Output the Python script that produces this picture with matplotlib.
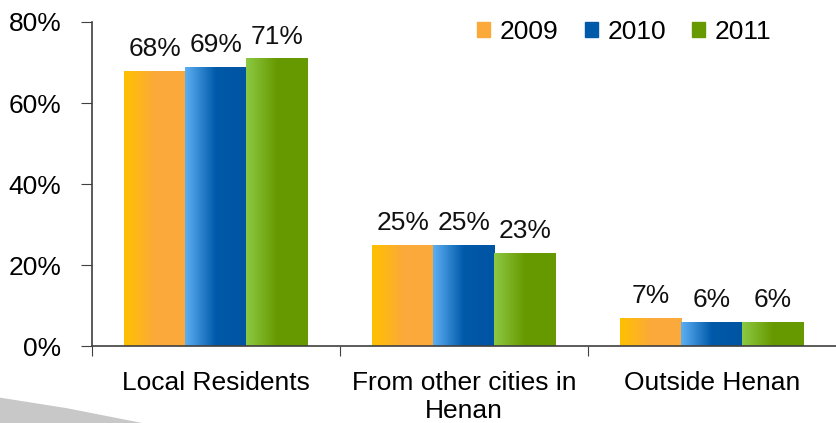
import numpy as np
import matplotlib
matplotlib.use("Agg")
import matplotlib.pyplot as plt
from matplotlib.colors import LinearSegmentedColormap
from matplotlib.patches import Polygon

plt.rcParams['font.family'] = ['Liberation Sans', 'DejaVu Sans']

# data
categories = ['Local Residents', 'From other cities in\nHenan', 'Outside Henan']
years = ['2009', '2010', '2011']
v2009 = [68, 25, 7]
v2010 = [69, 25, 6]
v2011 = [71, 23, 6]
series = [v2009, v2010, v2011]

# gradient colours per year (left -> right)
grads = [
    ['#FFC000', '#FBAA3A', '#FBA93C'],
    ['#5CAEF2', '#0059A9', '#0055A3'],
    ['#8DC843', '#679A00', '#669900'],
]
cmaps = [LinearSegmentedColormap.from_list('g%d' % i, g) for i, g in enumerate(grads)]

fs = 19

fig = plt.figure(figsize=(8.36, 4.23), dpi=100)
ax = fig.add_axes([0.110, 0.182, 0.890, 0.766])

width = 0.246
x = np.arange(len(categories))
grad = np.linspace(0, 1, 64).reshape(1, -1)

handles = []
for i, vals in enumerate(series):
    pos = x + (i - 1) * width
    bars = ax.bar(pos, vals, width, color='none', edgecolor='none', label=years[i])
    for b, v in zip(bars, vals):
        x0 = b.get_x()
        im = ax.imshow(grad, cmap=cmaps[i], aspect='auto',
                       extent=[x0, x0 + width, 0, v], zorder=2)
        im.set_clip_path(b)
        ax.annotate('%d%%' % v, (x0 + width / 2, v), xytext=(0, 7),
                    textcoords='offset points', ha='center', va='bottom',
                    fontsize=fs, color='#111111')
    h = plt.Rectangle((0, 0), 1, 1, color=grads[i][1])
    handles.append(h)

ax.set_xlim(-0.5, 2.5)
ax.set_ylim(0, 80)
ax.set_yticks([0, 20, 40, 60, 80])
ax.set_yticklabels(['%d%%' % t for t in [0, 20, 40, 60, 80]], fontsize=fs)
ax.set_xticks([-0.5, 0.5, 1.5])
ax.set_xticklabels([])
ax.set_xticks(x, minor=True)
ax.set_xticklabels(categories, minor=True, fontsize=fs, linespacing=1.2)
ax.tick_params(axis='x', which='minor', length=0, pad=18)
ax.tick_params(axis='x', which='major', length=7, color='#404040', direction='out')
ax.tick_params(axis='y', length=8, color='#404040', pad=14)

for s in ['top', 'right']:
    ax.spines[s].set_visible(False)
for s in ['left', 'bottom']:
    ax.spines[s].set_color('#404040')
    ax.spines[s].set_linewidth(1.2)

ax.legend(handles, years, loc='upper right', bbox_to_anchor=(0.945, 1.08), ncol=3,
          frameon=False, fontsize=fs, handlelength=0.5, handleheight=0.5,
          handletextpad=0.35, columnspacing=1.0)

# decorative grey swoosh at bottom left
sw = Polygon([[0, 0.06], [0.08, 0.035], [0.17, 0.0], [0, 0.0]],
             closed=True, transform=fig.transFigure, facecolor='#C8C8C8',
             edgecolor='none', zorder=0)
fig.patches.append(sw)

fig.savefig('out.png', dpi=100)
